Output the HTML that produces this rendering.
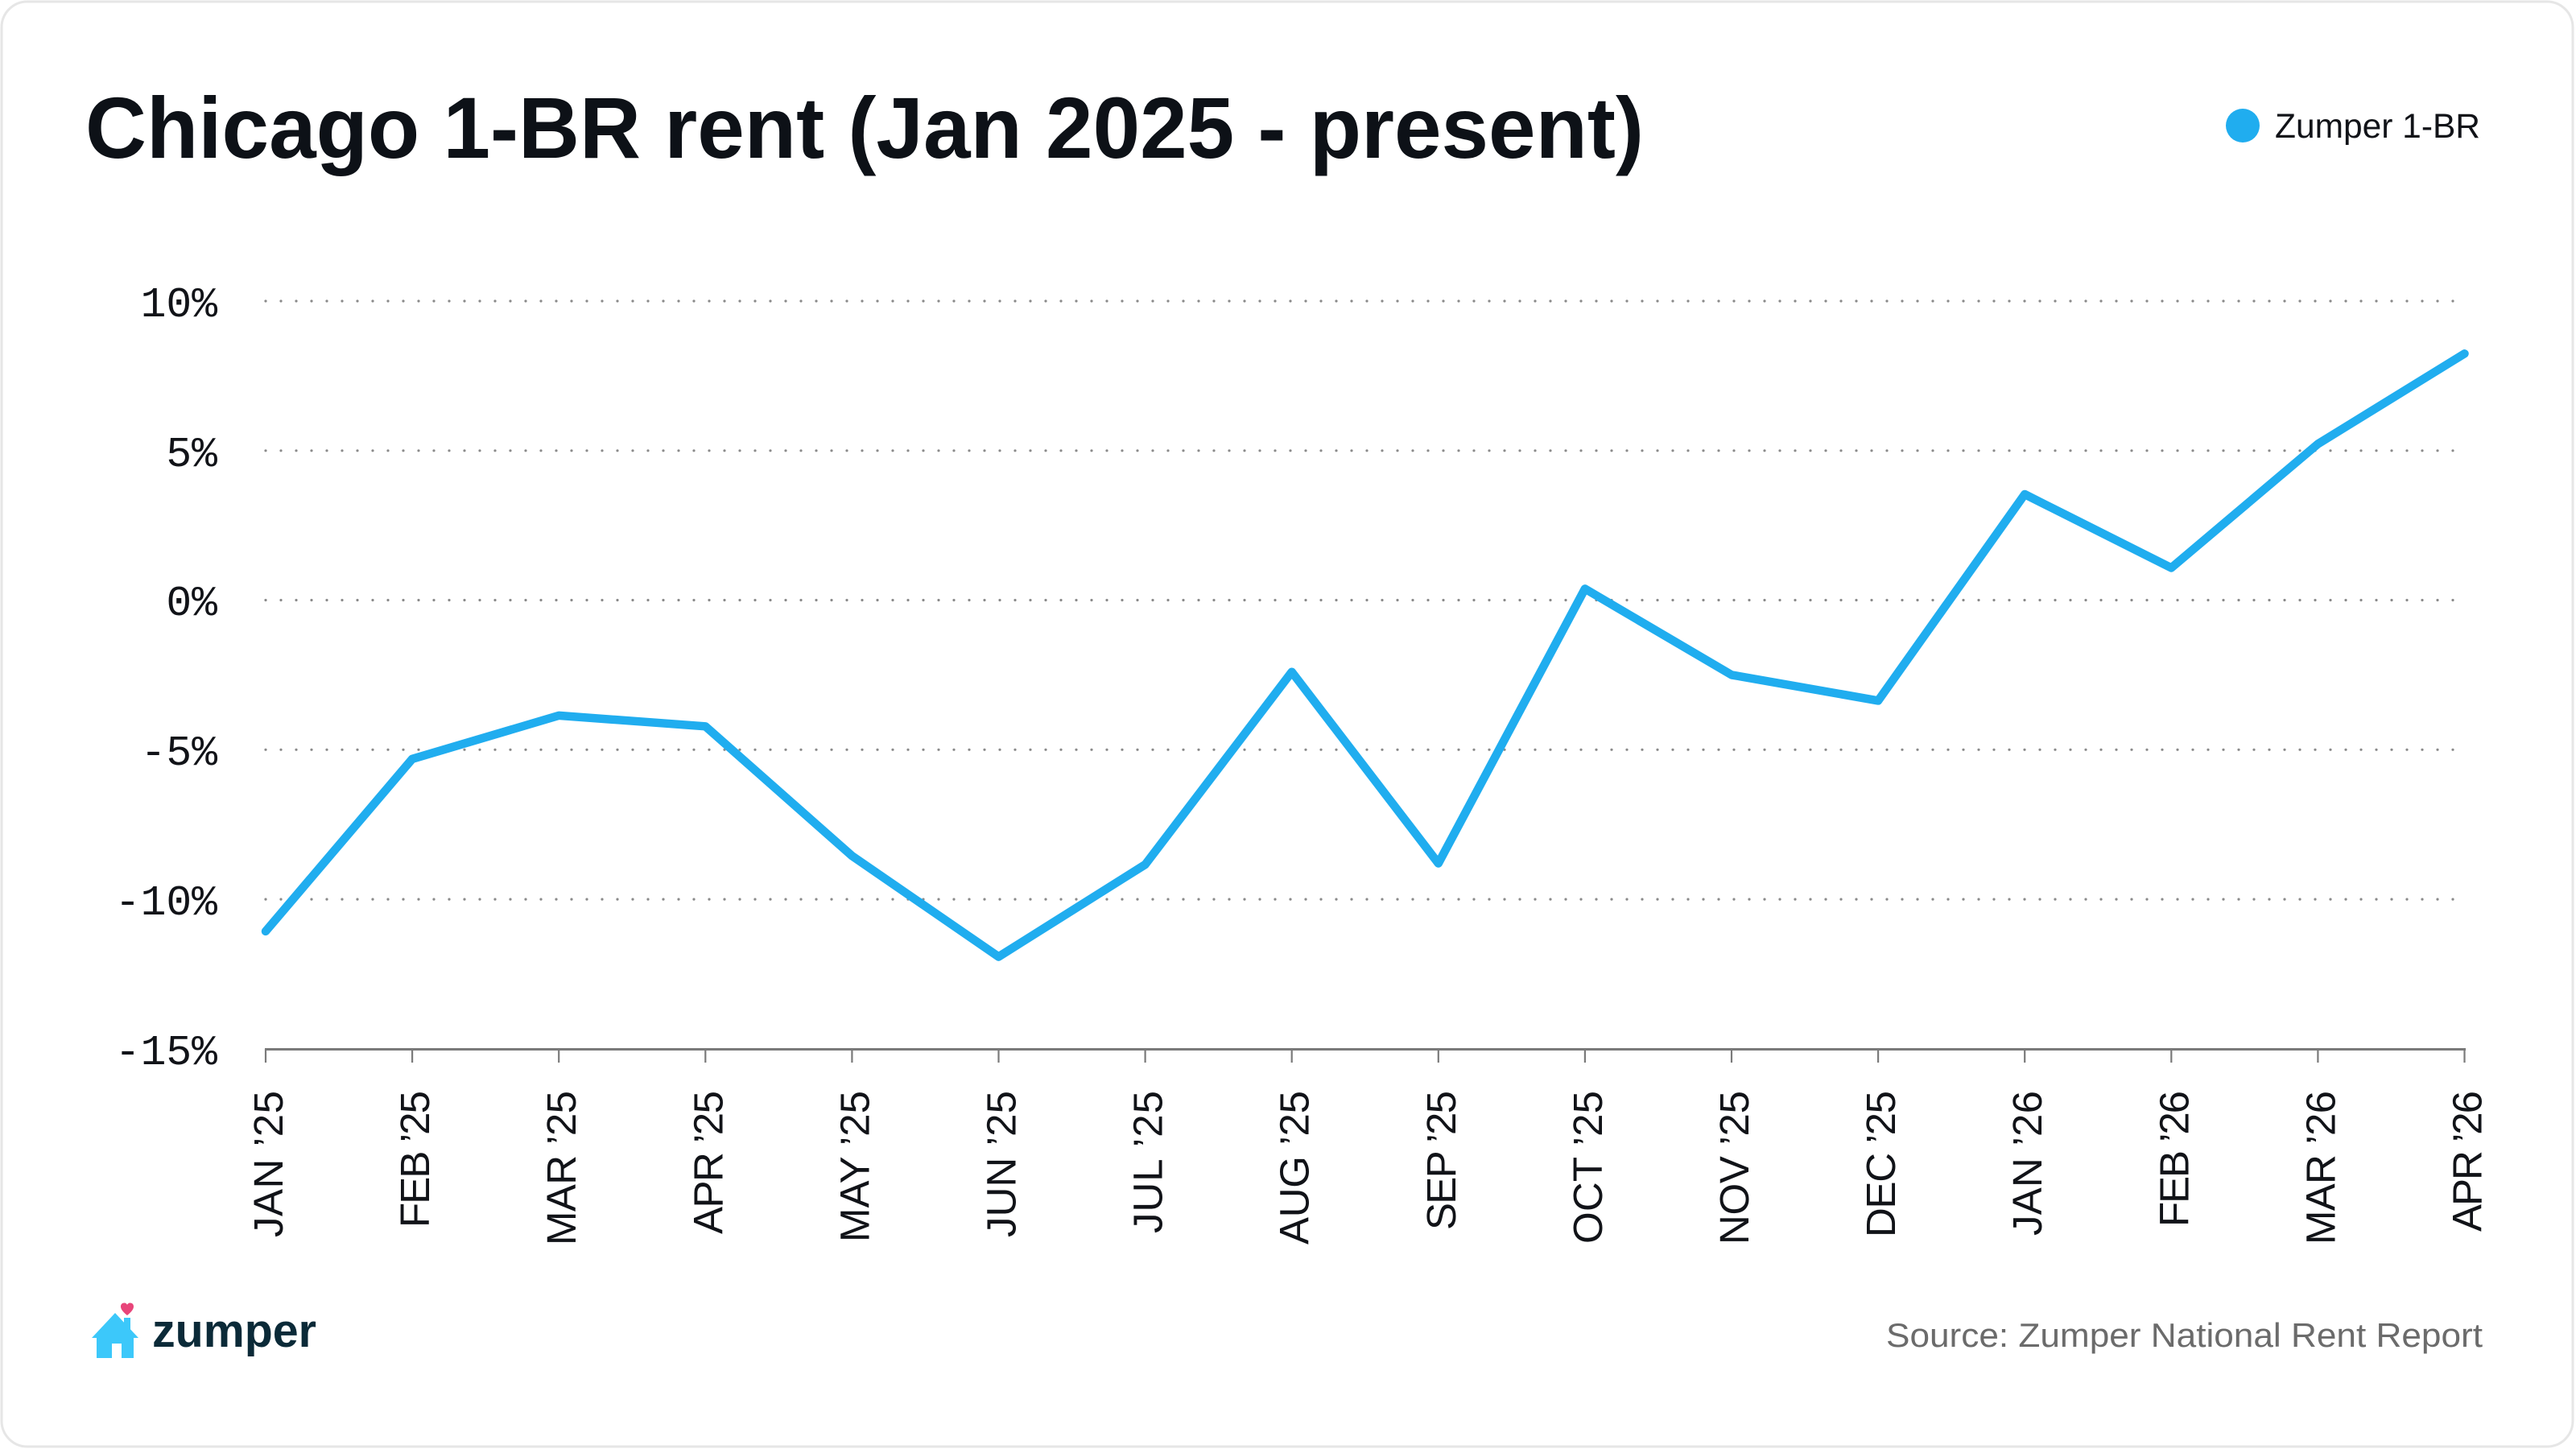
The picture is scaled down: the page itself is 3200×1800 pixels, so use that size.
<!DOCTYPE html>
<html>
<head>
<meta charset="utf-8">
<style>
  html, body { margin: 0; padding: 0; background: #ffffff; }
  body { width: 3200px; height: 1800px; overflow: hidden; }
  svg { display: block; }
</style>
</head>
<body>
<svg width="3200" height="1800" viewBox="0 0 3200 1800" xmlns="http://www.w3.org/2000/svg">
  <!-- card -->
  <rect x="0" y="0" width="3200" height="1800" fill="#ffffff"/>
  <rect x="2" y="2" width="3194" height="1795" rx="32" ry="32" fill="#ffffff" stroke="#e6e6e6" stroke-width="3"/>

  <!-- title -->
  <text x="106" y="196" font-family="Liberation Sans, sans-serif" font-weight="bold" font-size="108" fill="#0d1117" textLength="1936" lengthAdjust="spacingAndGlyphs">Chicago 1-BR rent (Jan 2025 - present)</text>

  <!-- legend -->
  <circle cx="2786" cy="156" r="21" fill="#20adef"/>
  <text x="2826" y="171" font-family="Liberation Sans, sans-serif" font-size="43" fill="#111318" textLength="255" lengthAdjust="spacingAndGlyphs">Zumper 1-BR</text>

  <!-- gridlines -->
  <g stroke="#8a8a8a" stroke-width="3.2" stroke-linecap="round" stroke-dasharray="0 19">
    <line x1="330" y1="374" x2="3062" y2="374"/>
    <line x1="330" y1="559.8" x2="3062" y2="559.8"/>
    <line x1="330" y1="745.5" x2="3062" y2="745.5"/>
    <line x1="330" y1="931.3" x2="3062" y2="931.3"/>
    <line x1="330" y1="1117.1" x2="3062" y2="1117.1"/>
  </g>

  <!-- y labels -->
  <g font-family="Liberation Mono, monospace" font-size="53" fill="#111318" text-anchor="end">
    <text x="270" y="393">10%</text>
    <text x="270" y="579">5%</text>
    <text x="270" y="764">0%</text>
    <text x="270" y="950">-5%</text>
    <text x="270" y="1136">-10%</text>
    <text x="270" y="1322">-15%</text>
  </g>

  <!-- x axis -->
  <line x1="329" y1="1303.5" x2="3063" y2="1303.5" stroke="#7a7a7a" stroke-width="3"/>
  <g stroke="#7a7a7a" stroke-width="2.2">
    <line x1="330" y1="1303" x2="330" y2="1320"/>
    <line x1="512.1" y1="1303" x2="512.1" y2="1320"/>
    <line x1="694.2" y1="1303" x2="694.2" y2="1320"/>
    <line x1="876.3" y1="1303" x2="876.3" y2="1320"/>
    <line x1="1058.4" y1="1303" x2="1058.4" y2="1320"/>
    <line x1="1240.5" y1="1303" x2="1240.5" y2="1320"/>
    <line x1="1422.6" y1="1303" x2="1422.6" y2="1320"/>
    <line x1="1604.7" y1="1303" x2="1604.7" y2="1320"/>
    <line x1="1786.8" y1="1303" x2="1786.8" y2="1320"/>
    <line x1="1968.9" y1="1303" x2="1968.9" y2="1320"/>
    <line x1="2151" y1="1303" x2="2151" y2="1320"/>
    <line x1="2333.1" y1="1303" x2="2333.1" y2="1320"/>
    <line x1="2515.2" y1="1303" x2="2515.2" y2="1320"/>
    <line x1="2697.3" y1="1303" x2="2697.3" y2="1320"/>
    <line x1="2879.4" y1="1303" x2="2879.4" y2="1320"/>
    <line x1="3061.5" y1="1303" x2="3061.5" y2="1320"/>
  </g>

  <!-- x labels -->
  <g font-family="Liberation Sans, sans-serif" font-size="51" fill="#111318" text-anchor="end">
    <text transform="translate(351,1355) rotate(-90)" textLength="182" lengthAdjust="spacing">JAN ’25</text>
    <text transform="translate(533.1,1355) rotate(-90)" textLength="170" lengthAdjust="spacing">FEB ’25</text>
    <text transform="translate(715.2,1355) rotate(-90)" textLength="192" lengthAdjust="spacing">MAR ’25</text>
    <text transform="translate(897.3,1355) rotate(-90)" textLength="178" lengthAdjust="spacing">APR ’25</text>
    <text transform="translate(1079.4,1355) rotate(-90)" textLength="188" lengthAdjust="spacing">MAY ’25</text>
    <text transform="translate(1261.5,1355) rotate(-90)" textLength="182" lengthAdjust="spacing">JUN ’25</text>
    <text transform="translate(1443.6,1355) rotate(-90)" textLength="177" lengthAdjust="spacing">JUL ’25</text>
    <text transform="translate(1625.7,1355) rotate(-90)" textLength="191" lengthAdjust="spacing">AUG ’25</text>
    <text transform="translate(1807.8,1355) rotate(-90)" textLength="173" lengthAdjust="spacing">SEP ’25</text>
    <text transform="translate(1989.9,1355) rotate(-90)" textLength="190" lengthAdjust="spacing">OCT ’25</text>
    <text transform="translate(2172,1355) rotate(-90)" textLength="191" lengthAdjust="spacing">NOV ’25</text>
    <text transform="translate(2354.1,1355) rotate(-90)" textLength="182" lengthAdjust="spacing">DEC ’25</text>
    <text transform="translate(2536.2,1355) rotate(-90)" textLength="180" lengthAdjust="spacing">JAN ’26</text>
    <text transform="translate(2718.3,1355) rotate(-90)" textLength="169" lengthAdjust="spacing">FEB ’26</text>
    <text transform="translate(2900.4,1355) rotate(-90)" textLength="191" lengthAdjust="spacing">MAR ’26</text>
    <text transform="translate(3082.5,1355) rotate(-90)" textLength="175" lengthAdjust="spacing">APR ’26</text>
  </g>

  <!-- data line -->
  <polyline fill="none" stroke="#20adef" stroke-width="10.5" stroke-linejoin="round" stroke-linecap="round"
    points="330,1156.9 512.1,942.8 694.2,888.9 876.3,902.3 1058.4,1063.2 1240.5,1188.5 1422.6,1074 1604.7,834.7 1786.8,1072.5 1968.9,731.4 2151,838.4 2333.1,870.4 2515.2,614 2697.3,705.4 2879.4,551.5 3061.5,439.3"/>

  <!-- logo -->
  <g>
    <!-- chimney -->
    <rect x="154" y="1637" width="8" height="18" fill="#3cc8fa"/>
    <!-- roof -->
    <polygon points="143,1631 114,1662 172,1662" fill="#3cc8fa"/>
    <!-- body -->
    <rect x="120" y="1658" width="46" height="29" fill="#3cc8fa"/>
    <!-- door -->
    <rect x="139" y="1669" width="12" height="18" fill="#ffffff"/>
    <!-- heart -->
    <path d="M158,1634 C152,1629 150,1626 150,1623 C150,1620 152,1618.5 154.5,1618.5 C156,1618.5 157.3,1619.5 158,1620.8 C158.7,1619.5 160,1618.5 161.5,1618.5 C164,1618.5 166,1620 166,1623 C166,1626 164,1629 158,1634 Z" fill="#e8457a"/>
    <text x="189" y="1673" font-family="Liberation Sans, sans-serif" font-weight="bold" font-size="58" fill="#0b2a38" textLength="204" lengthAdjust="spacingAndGlyphs">zumper</text>
  </g>

  <!-- source -->
  <text x="2343" y="1673" font-family="Liberation Sans, sans-serif" font-size="42" fill="#6b6b6b" textLength="741" lengthAdjust="spacingAndGlyphs">Source: Zumper National Rent Report</text>
</svg>
</body>
</html>
